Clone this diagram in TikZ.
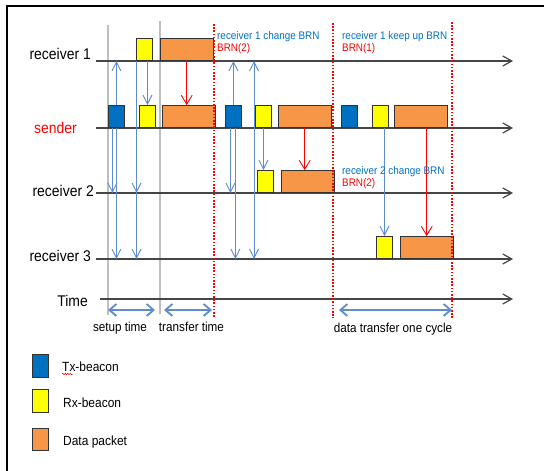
\documentclass[tikz,border=0pt]{standalone}
\usepackage{fontspec}
\setmainfont{Liberation Sans}[FakeStretch=0.9]
\usetikzlibrary{arrows.meta,decorations.pathmorphing}

\definecolor{txblue}{RGB}{0,112,192}
\definecolor{rxyellow}{RGB}{255,255,0}
\definecolor{pktorange}{RGB}{247,150,70}
\definecolor{sigblue}{RGB}{95,140,205}
\definecolor{axisgray}{RGB}{70,70,70}
\definecolor{guidegray}{RGB}{190,190,190}

\tikzset{
  box/.style={draw=black!80, line width=0.9pt, minimum height=22pt, inner sep=0pt, anchor=south west},
  txbox/.style={box, fill=txblue, minimum width=16pt},
  rxbox/.style={box, fill=rxyellow, minimum width=16pt},
  pktbox/.style={box, fill=pktorange, minimum width=52.5pt},
  timeline/.style={axisgray, line width=1.2pt, -{Straight Barb[length=9pt,width=10pt]}},
  sig/.style={sigblue, line width=0.9pt, -{Straight Barb[length=9pt,width=9pt]}},
  pktsig/.style={red, line width=0.9pt, -{Straight Barb[length=9pt,width=11pt]}},
  span/.style={sigblue, line width=1.8pt, {Straight Barb[length=7pt,width=12pt]}-{Straight Barb[length=7pt,width=12pt]}},
  cutline/.style={red, line width=1.8pt, dash pattern=on 1.6pt off 1.6pt},
  guide/.style={guidegray, line width=1.5pt},
  lbl/.style={font=\fontsize{15.5}{18}\selectfont, inner sep=0pt, anchor=base east},
  note/.style={font=\fontsize{11}{13}\selectfont, inner sep=0pt, anchor=base west},
  spanlbl/.style={font=\fontsize{13}{15}\selectfont, inner sep=0pt, anchor=base},
  keytext/.style={font=\fontsize{13.3}{16}\selectfont, inner sep=0pt, anchor=base west},
}

\begin{document}
\begin{tikzpicture}[x=1pt,y=-1pt]
\useasboundingbox (0,0) rectangle (544,471);
\draw[line width=1.2pt] (7,471) -- (7,6) -- (544,6);

\draw[guide] (108,25) -- (108,315);
\draw[guide] (160,21) -- (160,314);

\foreach \n/\y in {r1/61,snd/128,r2/193,r3/259}{
  \coordinate (\n-s) at (96,\y);
  \coordinate (\n-e) at (513,\y);
  \draw[timeline] (\n-s) -- (\n-e);
}
\coordinate (t-s) at (100,299);
\coordinate (t-e) at (513,299);
\draw[timeline] (t-s) -- (t-e);

\node[lbl] (r1-lbl) at (91,59) {receiver 1};
\node[lbl, text=red] (snd-lbl) at (77,133) {sender};
\node[lbl] (r2-lbl) at (94,196) {receiver 2};
\node[lbl] (r3-lbl) at (91,261.5) {receiver 3};
\node[lbl] (t-lbl) at (88,306) {Time};

\node[rxbox] (rx-r1) at (136,61) {};
\node[pktbox] (pkt-r1) at (160,61) {};
\foreach \i/\a/\b/\c in {1/108/139/162,2/225/255/278,3/341/372/394}{
  \node[txbox] (tx-s\i) at (\a,128) {};
  \node[rxbox] (rx-s\i) at (\b,128) {};
  \node[pktbox] (pkt-s\i) at (\c,128) {};
}
\node[rxbox] (rx-r2) at (257,193) {};
\node[pktbox] (pkt-r2) at (281,193) {};
\node[rxbox] (rx-r3) at (376,259) {};
\node[pktbox] (pkt-r3) at (400,259) {};

\draw[sig] (tx-s1.north) -- (tx-s1.north |- r1-s);
\coordinate (a2) at ([xshift=-4pt]tx-s1.south);
\draw[sig] (a2) -- (a2 |- r2-s);
\draw[sig] (tx-s1.south) -- (tx-s1.south |- r3-s);
\draw[sig] (rx-r1.south -| rx-s1.north) -- (rx-s1.north);
\coordinate (a5) at ([xshift=0.5pt]rx-r1.south west);
\draw[sig] (a5) -- (a5 |- r2-s);
\draw[sig] (a5) -- (a5 |- r3-s);
\draw[pktsig] (pkt-r1.south) -- (pkt-r1.south |- pkt-s1.north);

\draw[sig] (tx-s2.north) -- (tx-s2.north |- r1-s);
\coordinate (b2) at ([xshift=-3pt]tx-s2.south);
\draw[sig] (b2) -- (b2 |- r2-s);
\coordinate (b3) at ([xshift=2pt]tx-s2.south);
\draw[sig] (b3) -- (b3 |- r3-s);
\coordinate (b4) at ([xshift=-3pt]rx-r2.south west);
\draw[sig] (b4) -- (b4 |- r1-s);
\draw[sig] (b4) -- (b4 |- r3-s);
\draw[sig] (rx-s2.south) -- (rx-s2.south |- rx-r2.north);
\draw[pktsig] (pkt-s2.south) -- (pkt-s2.south |- pkt-r2.north);

\draw[sig] (rx-s3.south -| rx-r3.north) -- (rx-r3.north);
\draw[pktsig] (pkt-s3.south -| pkt-r3.north) -- (pkt-r3.north);

\foreach \x/\t in {214/24,333/23,452/22}
  \draw[cutline] (\x,\t) -- (\x,318);

\foreach \n/\x in {g1/108,g2/160,c1/214,c2/333,c3/452}
  \coordinate (\n) at (\x,310);
\draw[span, shorten >=5pt] (g1) -- (g2);
\draw[span, shorten <=4pt, shorten >=2pt] (g2) -- (c1);
\draw[span, shorten <=6pt] (c2) -- (c3);

\node[spanlbl] (setup-lbl) at (120,331) {setup time};
\node[spanlbl] (xfer-lbl) at (191.5,331) {transfer time};
\node[spanlbl] (cyc-lbl) at (393,332) {data transfer one cycle};

\node[note, text=txblue] (n1) at (217,39) {receiver 1 change BRN};
\node[note, text=red] (n1b) at (217,51) {BRN(2)};
\node[note, text=txblue] (n2) at (342,39) {receiver 1 keep up BRN};
\node[note, text=red] (n2b) at (342,51) {BRN(1)};
\node[note, text=txblue] (n3) at (342,174.5) {receiver 2 change BRN};
\node[note, text=red] (n3b) at (342,186) {BRN(2)};

\node[txbox, anchor=north west, minimum height=23pt] (key-tx) at (32,354) {};
\node[rxbox, anchor=north west, minimum height=23pt] (key-rx) at (32,389) {};
\node[pktbox, anchor=north west, minimum width=16pt] (key-pkt) at (32,428) {};
\node[keytext] (key-tx-t) at (62,371) {Tx-beacon};
\node[keytext] (key-rx-t) at (63,407) {Rx-beacon};
\node[keytext] (key-pkt-t) at (63,445) {Data packet};
\draw[red, line width=0.5pt, decorate, decoration={snake, amplitude=0.7pt, segment length=2.5pt}] ([yshift=-3pt]key-tx-t.base west) -- ++(11,0);
\end{tikzpicture}
\end{document}
